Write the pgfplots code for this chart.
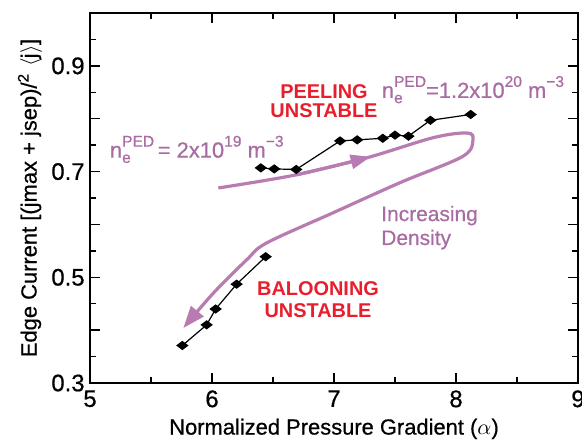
\documentclass[border=0pt]{standalone}
\usepackage{pgfplots}
\pgfplotsset{compat=1.18}
\usepackage{fontspec}
\setmainfont{Liberation Sans}
\newfontfamily\medfont{Liberation Sans}[FakeBold=0.6]
\usetikzlibrary{arrows.meta}
\definecolor{mauve}{RGB}{184,124,178}
\definecolor{mauvetext}{RGB}{168,108,162}
\definecolor{pred}{RGB}{232,30,44}
\newcommand{\sups}[1]{\raisebox{0.95ex}{\fontsize{7.8}{8}\selectfont #1}}
\newcommand{\nped}{n\rlap{\raisebox{-0.45ex}{\fontsize{7.8}{8}\selectfont e}}\sups{PED}}

\begin{document}
\begin{tikzpicture}
\begin{axis}[
  name=ax,
  scale only axis,
  width=244bp, height=185bp,
  xmin=5, xmax=9, ymin=0.3, ymax=1.0,
  xtick={5,6,7,8,9},
  xticklabels={5,6,7,8,9},
  ytick={0.3,0.4,0.5,0.6,0.7,0.8,0.9,1.0},
  yticklabels={0.3,,0.5,,0.7,,0.9,},
  minor x tick num=1,
  minor y tick num=1,
  tick align=inside,
  major tick length=5bp,
  minor tick length=3bp,
  axis line style={line width=1bp},
  every tick/.style={black, line width=0.7bp},
  xticklabel style={font=\medfont\fontsize{12}{13}\selectfont, inner sep=3.5bp},
  yticklabel style={font=\medfont\fontsize{12}{13}\selectfont, inner sep=2.5bp},
  label style={font=\medfont\fontsize{11}{13}\selectfont},
  xlabel={Normalized Pressure Gradient ($\alpha$)},
  ylabel={Edge Current [(jmax + jsep)/\textsuperscript{2} $\langle$j$\rangle$]},
  ylabel style={at={(axis description cs:-0.123,0.5)}, anchor=center},
  xlabel style={at={(axis description cs:0.5,-0.124)}, anchor=center},
]

% increasing density path, first part (ends in the middle arrow head)
\addplot[mauve, line width=1.6bp, smooth, tension=0.55, mark=none,
  -{Triangle[length=10bp,width=7bp]}] coordinates {
  (6.052,0.669)(6.694,0.694)(7.300,0.728)
};
% second part, round the loop and down to the lower left
\addplot[mauve, line width=1.6bp, smooth, tension=0.55, mark=none,
  -{Triangle[length=11bp,width=8bp]}] coordinates {
  (6.694,0.694)(7.268,0.726)(7.811,0.764)(8.088,0.773)
  (8.139,0.761)(8.057,0.729)(7.541,0.679)(6.992,0.622)(6.448,0.565)
  (6.284,0.533)(6.011,0.470)(5.765,0.404)
};

% low density branch
\addplot[black, line width=0.6bp, mark=diamond*, mark size=2.6bp,
  mark options={solid, rotate=90}] coordinates {
  (5.757,0.371)(5.956,0.410)(6.030,0.440)(6.202,0.487)(6.440,0.539)
};

% high density branch
\addplot[black, line width=0.6bp, mark=diamond*, mark size=2.6bp,
  mark options={solid, rotate=90}] coordinates {
  (6.40,0.707)(6.51,0.705)(6.69,0.704)(7.05,0.758)(7.19,0.760)
  (7.40,0.763)(7.50,0.769)(7.61,0.767)(7.79,0.797)(8.12,0.808)
};

\node[pred, font=\bfseries\fontsize{10}{9.5}\selectfont, align=center]
  at (axis cs:6.918,0.834) {PEELING\\UNSTABLE};
\node[pred, font=\bfseries\fontsize{10}{11}\selectfont, align=center]
  at (axis cs:6.869,0.457) {BALOONING\\UNSTABLE};
\node[mauvetext, font=\medfont\fontsize{10.5}{12}\selectfont, align=left, anchor=west]
  at (axis cs:7.33,0.594) {Increasing\\Density};
\node[mauvetext, font=\medfont\fontsize{11}{12}\selectfont]
  at (axis cs:5.875,0.742) {\nped\,= 2x10\sups{19} m\sups{−3}};
\node[mauvetext, font=\medfont\fontsize{11}{12}\selectfont]
  at (axis cs:8.139,0.855) {\nped=1.2x10\sups{20} m\sups{−3}};

\end{axis}
\pgfresetboundingbox
\path[use as bounding box] ([shift={(-45bp,-29bp)}]ax.south west) rectangle ([shift={(2bp,6.5bp)}]ax.north east);
\end{tikzpicture}
\end{document}
